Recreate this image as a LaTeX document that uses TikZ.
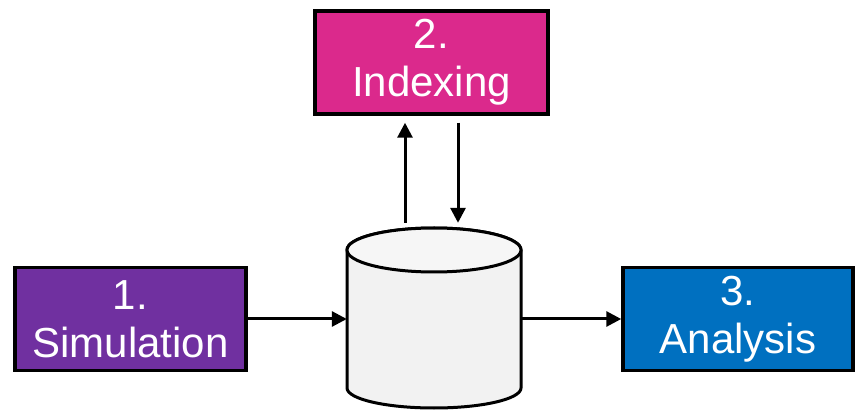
\documentclass[tikz,border=0pt]{standalone}
\usepackage{fontspec}
\setmainfont{Liberation Sans}
\usetikzlibrary{arrows.meta}
\definecolor{simpurple}{HTML}{7030A0}
\definecolor{idxpink}{HTML}{DB298C}
\definecolor{anablue}{HTML}{0070C0}
\definecolor{dbfill}{HTML}{F2F2F2}
\definecolor{dbtop}{HTML}{F6F6F6}
\tikzset{
  stagebox/.style={draw=black, line width=3.5pt, text=white, align=center,
    minimum width=231pt, minimum height=103pt, inner sep=0pt,
    font=\fontsize{42}{48}\selectfont},
  arr/.style={line width=3pt, -{Triangle[length=15pt,width=15pt]}},
  dbline/.style={draw=black, line width=3pt}
}
\begin{document}
\begin{tikzpicture}[x=1pt,y=1pt]
\useasboundingbox (0,0) rectangle (856,-411);
% nodes
\node[stagebox, fill=simpurple] (sim) at (130.5,-319) {1.\\Simulation};
\node[stagebox, fill=idxpink, minimum width=233pt] (idx) at (431.5,-62.5) {2.\\Indexing};
\node[stagebox, fill=anablue, minimum width=230pt] (ana) at (738,-319) {3.\\Analysis};
\node[minimum width=174pt, minimum height=180pt, inner sep=0pt] (db) at (434,-319) {};
% cylinder
\path[dbline, fill=dbfill] (347,-250) -- (347,-388) arc (180:360:87 and 20) -- (521,-250) arc (0:180:87 and 22) -- cycle;
\path[dbline, fill=dbtop] (434,-250) ellipse (87 and 22);
% connectors
\draw[arr] (sim.east) -- (db.west);
\draw[arr] (db.east) -- (ana.west);
\draw[arr, shorten <=6pt, shorten >=7pt] ([xshift=-29pt]db.north) -- ([xshift=-26.5pt]idx.south);
\draw[arr, shorten <=7pt, shorten >=6pt] ([xshift=26.5pt]idx.south) -- ([xshift=24pt]db.north);
\end{tikzpicture}
\end{document}
